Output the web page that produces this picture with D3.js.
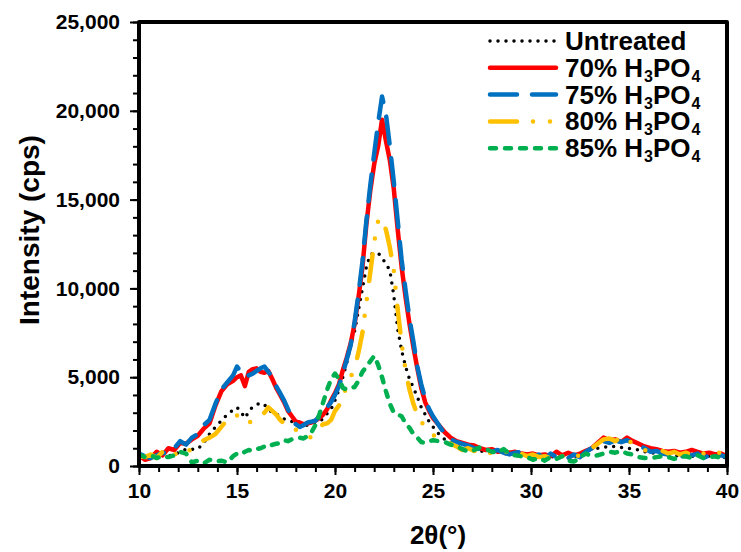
<!DOCTYPE html>
<html>
<head>
<meta charset="utf-8">
<script src="https://cdn.jsdelivr.net/npm/d3@7"></script>
<style>
  body { margin: 0; background: #fff; }
  svg { display: block; font-family: Arial, "Liberation Sans", sans-serif; font-weight: bold; }
</style>
</head>
<body>
<svg id="chart" width="741" height="552"></svg>
<script>
// 2θ sample positions (degrees)
const twoTheta = [
  10.0, 10.3, 10.6, 10.9, 11.2, 11.5, 11.8, 12.1, 12.4, 12.7, 13.0, 13.3, 13.6, 13.9, 14.2, 14.5, 14.8,
  15.0, 15.2, 15.4, 15.6, 15.8, 16.0, 16.2, 16.4, 16.6, 16.8, 17.0, 17.2, 17.4, 17.6, 17.8, 18.0, 18.2, 18.4, 18.6, 18.8,
  19.0, 19.2, 19.4, 19.6, 19.8, 20.0, 20.2, 20.4, 20.6, 20.8, 21.0, 21.2, 21.4, 21.6, 21.8, 22.0, 22.2, 22.4, 22.6, 22.8,
  23.0, 23.2, 23.4, 23.6, 23.8, 24.0, 24.2, 24.4, 24.6, 24.8, 25.0,
  25.3, 25.6, 25.9, 26.2, 26.5, 26.8, 27.1, 27.4, 27.7, 28.0, 28.3, 28.6, 28.9, 29.2, 29.5, 29.8, 30.1, 30.4, 30.7,
  31.0, 31.3, 31.6, 31.9, 32.2, 32.5, 32.8, 33.1, 33.4, 33.7, 34.0, 34.3, 34.6, 34.9, 35.2, 35.5, 35.8, 36.1, 36.4,
  36.7, 37.0, 37.3, 37.6, 37.9, 38.2, 38.5, 38.8, 39.1, 39.4, 39.7, 40.0
];

const untreated = [
  500, 450, 550, 500, 600, 550, 700, 750, 950, 950, 950, 1300, 1800, 2200, 2550, 2900, 3150,
  3300, 3050, 2700, 3050, 3350, 3450, 3550, 3450, 3200, 3000, 2950, 2750, 2650, 2550, 2500, 2400, 2300, 2250, 2300, 2400,
  2450, 2550, 2650, 2950, 3200, 3700, 4300, 5000, 5800, 6800, 7600, 8800, 10000, 11200, 11900, 12000, 12000, 11700, 11400, 11000,
  9600, 7700, 6500, 5600, 4900, 4400, 3900, 3300, 2900, 2500, 2200,
  1800, 1500, 1300, 1150, 1050, 950, 900, 850, 800, 750, 800, 700, 650, 700, 600, 650, 600, 550, 600,
  500, 550, 500, 450, 500, 600, 900, 950, 1000, 1050, 1100, 1100, 1050, 1000, 950, 900, 800, 750, 700,
  650, 600, 600, 550, 600, 550, 550, 500, 550, 500, 500, 450
];

const acid70 = [
  600, 350, 450, 800, 600, 1000, 900, 1300, 1250, 1500, 1700, 2100, 2400, 3400, 4200, 4600, 4800,
  5000, 5100, 4500, 5300, 5450, 5500, 5300, 5250, 5350, 4900, 4400, 4000, 3600, 3100, 2800, 2500, 2450, 2350, 2400, 2450,
  2550, 2700, 2900, 3200, 3700, 4100, 4600, 5400, 6100, 6900, 8000, 9500, 11200, 13600, 15500, 17000, 18000, 19500, 18300, 17200,
  15600, 13300, 11200, 9500, 8000, 6700, 5500, 4400, 3600, 3100, 2700,
  2300, 1900, 1600, 1400, 1300, 1200, 1150, 1000, 900, 950, 800, 850, 750, 800, 700, 650, 700, 600, 650,
  550, 800, 600, 750, 600, 700, 850, 1000, 1300, 1600, 1450, 1500, 1350, 1600, 1400, 1250, 1100, 1000, 950,
  850, 800, 850, 750, 800, 900, 800, 700, 750, 650, 700, 550
];

const acid75 = [
  700, 550, 450, 600, 750, 700, 1000, 1400, 1200, 1600, 1800, 2300, 2600, 3500, 4300, 4700, 5100,
  5600, 5300, 5400, 5100, 5200, 5350, 5500, 5600, 5300, 5000, 4500, 4100, 3700, 3200, 2700, 2350, 2200, 2300, 2450, 2500,
  2550, 2800, 3000, 3300, 3600, 4000, 4500, 5200, 6000, 6800, 8100, 9700, 11500, 13800, 15800, 17600, 19300, 20800, 19800, 18000,
  16000, 13800, 11600, 9900, 8300, 7000, 5600, 4600, 3800, 3200, 2800,
  2300, 1800, 1500, 1350, 1250, 1150, 1000, 950, 850, 800, 900, 750, 650, 750, 800, 600, 500, 650, 400,
  700, 500, 550, 450, 650, 500, 800, 1000, 1200, 1400, 1300, 1450, 1350, 1450, 1300, 1150, 1000, 800, 850,
  700, 650, 700, 500, 650, 600, 700, 450, 600, 500, 600, 500
];

const acid80 = [
  550, 500, 650, 450, 800, 550, 700, 600, 950, 850, 1100, 1450, 1600, 1800, 2200, 2600, 2750,
  2850, 2700, 2400, 2500, 2450, 2600, 2900, 3000, 3300, 3100, 2900, 2600, 2400, 2250, 2100, 2050, 1950, 1900, 1650, 1600,
  1900, 2200, 2350, 2400, 2600, 3100, 3400, 3800, 4600, 5000, 5500, 6400, 7500, 9200, 10900, 12600, 13800, 14000, 13300, 12300,
  11000, 8800, 6900, 5400, 4300, 3500, 2900, 2500, 2200, 1950, 1750,
  1550, 1400, 1250, 1100, 900, 1000, 850, 800, 700, 750, 650, 700, 900, 650, 700, 550, 650, 500, 550,
  450, 350, 550, 400, 550, 600, 750, 1000, 1250, 1500, 1550, 1400, 1650, 1500, 1250, 1100, 900, 800, 750,
  850, 700, 800, 650, 750, 650, 600, 700, 550, 650, 800, 450
];

const acid85 = [
  650, 500, 600, 450, 550, 500, 600, 800, 700, 200, 300, 150, 350, 250, 300, 200, 550,
  700, 650, 800, 900, 850, 950, 1000, 1100, 1050, 1200, 1250, 1300, 1450, 1400, 1500, 1550, 1600, 1550, 1700, 1900,
  2300, 2900, 3600, 4300, 4900, 5200, 4900, 4400, 4300, 4400, 4450, 4800, 5300, 5600, 5900, 6200, 5700, 5000, 4200, 3500,
  3000, 2900, 2800, 2400, 2150, 1800, 1600, 1350, 1300, 1400, 1450,
  1400, 1350, 1200, 1100, 950, 800, 900, 1050, 950, 800, 750, 950, 700, 600, 550, 500, 350, 450, 300,
  500, 400, 550, 300, 250, 500, 700, 550, 600, 700, 800, 750, 850, 700, 650, 500, 450, 450, 500,
  550, 500, 400, 500, 550, 450, 600, 450, 500, 550, 450, 550
];

const seriesNames = ["Untreated", "70%", "75%", "80%", "85%"];
const xTicks = [10, 15, 20, 25, 30, 35, 40];
const yTicks = [0, 5000, 10000, 15000, 20000, 25000];

const width = 741;
const height = 552;
const plot = { left: 139, right: 727, top: 22, bottom: 466 };

const svg = d3.select("#chart");

const xScale = d3.scaleLinear()
    .domain([10, 40])
    .range([plot.left, plot.right]);

const yScale = d3.scaleLinear()
    .domain([0, 25000])
    .range([plot.bottom, plot.top]);

// one entry per series: values + how to stroke it
const series = [
    { name: seriesNames[0], values: untreated, color: "#000000", dash: "0 8", width: 3.5, acid: false },
    { name: seriesNames[1], values: acid70, color: "#ff0000", dash: null, width: 4.5, acid: true },
    { name: seriesNames[2], values: acid75, color: "#0070c0", dash: "27 15", width: 4.5, acid: true },
    { name: seriesNames[3], values: acid80, color: "#ffc000", dash: "27 16 0 17 0 18", width: 4.5, acid: true },
    { name: seriesNames[4], values: acid85, color: "#00b050", dash: "6 9", width: 4.5, acid: true }
];

svg.append("defs").append("clipPath")
    .attr("id", "plot-clip")
    .append("rect")
    .attr("x", plot.left)
    .attr("y", plot.top)
    .attr("width", plot.right - plot.left)
    .attr("height", plot.bottom - plot.top);

const line = d3.line()
    .x(function(d) { return xScale(d[0]); })
    .y(function(d) { return yScale(d[1]); });

svg.append("g")
    .attr("clip-path", "url(#plot-clip)")
    .selectAll("path")
    .data(series)
    .enter()
    .append("path")
    .attr("d", function(s) {
        return line(twoTheta.map(function(t, i) { return [t, s.values[i]]; }));
    })
    .attr("fill", "none")
    .attr("stroke", function(s) { return s.color; })
    .attr("stroke-width", function(s) { return s.width; })
    .attr("stroke-dasharray", function(s) { return s.dash; })
    .attr("stroke-linecap", "round")
    .attr("stroke-linejoin", "round");

// minor ticks
svg.append("g")
    .attr("transform", `translate(${plot.left},0)`)
    .call(d3.axisLeft(yScale).tickValues(d3.range(0, 25001, 1000)).tickSize(6).tickFormat(""))
    .call(function(g) { g.select(".domain").remove(); })
    .selectAll("line").attr("stroke-width", 2);

svg.append("g")
    .attr("transform", `translate(0,${plot.bottom})`)
    .call(d3.axisBottom(xScale).tickValues(d3.range(10, 41, 1)).tickSize(6).tickFormat(""))
    .call(function(g) { g.select(".domain").remove(); })
    .selectAll("line").attr("stroke-width", 2);

// major ticks + labels
const yAxis = svg.append("g")
    .attr("transform", `translate(${plot.left},0)`)
    .call(d3.axisLeft(yScale).tickValues(yTicks).tickSize(9).tickPadding(10).tickFormat(d3.format(",")));
yAxis.select(".domain").remove();
yAxis.selectAll("line").attr("stroke-width", 2);
yAxis.selectAll("text")
    .attr("font-size", 21)
    .attr("font-family", "Arial, 'Liberation Sans', sans-serif")
    .attr("font-weight", "bold")
    .attr("fill", "#000");

const xAxis = svg.append("g")
    .attr("transform", `translate(0,${plot.bottom})`)
    .call(d3.axisBottom(xScale).tickValues(xTicks).tickSize(9).tickPadding(8));
xAxis.select(".domain").remove();
xAxis.selectAll("line").attr("stroke-width", 2);
xAxis.selectAll("text")
    .attr("font-size", 21)
    .attr("font-family", "Arial, 'Liberation Sans', sans-serif")
    .attr("font-weight", "bold")
    .attr("fill", "#000");

// plot frame
svg.append("rect")
    .attr("x", plot.left)
    .attr("y", plot.top)
    .attr("width", plot.right - plot.left)
    .attr("height", plot.bottom - plot.top)
    .attr("fill", "none")
    .attr("stroke", "#000")
    .attr("stroke-width", 4)
    .attr("stroke-linejoin", "round");

// axis titles
svg.append("text")
    .attr("x", 438)
    .attr("y", 544)
    .attr("text-anchor", "middle")
    .attr("font-size", 26)
    .text("2θ(°)");

svg.append("text")
    .attr("transform", `translate(39,${230}) rotate(-90)`)
    .attr("text-anchor", "middle")
    .attr("font-size", 28)
    .text("Intensity (cps)");

// legend
const legend = svg.append("g")
    .attr("transform", "translate(490,41)");

const rows = legend.selectAll("g")
    .data(series)
    .enter()
    .append("g")
    .attr("transform", function(d, i) { return `translate(0,${i * 26.8})`; });

rows.append("line")
    .attr("x1", 0)
    .attr("x2", 66)
    .attr("y1", 0)
    .attr("y2", 0)
    .attr("stroke", function(s) { return s.color; })
    .attr("stroke-width", function(s) { return s.width; })
    .attr("stroke-dasharray", function(s) { return s.dash; })
    .attr("stroke-linecap", "round");

const labels = rows.append("text")
    .attr("x", 75)
    .attr("y", 9)
    .attr("font-size", 26);

labels.each(function(s) {
    const t = d3.select(this);
    if (!s.acid) {
        t.text(s.name);
        return;
    }
    t.append("tspan").text(s.name + " H");
    t.append("tspan").attr("font-size", 16).attr("dx", 1).attr("dy", 5).text("3");
    t.append("tspan").attr("dy", -5).text("PO");
    t.append("tspan").attr("font-size", 16).attr("dx", 1).attr("dy", 5).text("4");
});
</script>
</body>
</html>
